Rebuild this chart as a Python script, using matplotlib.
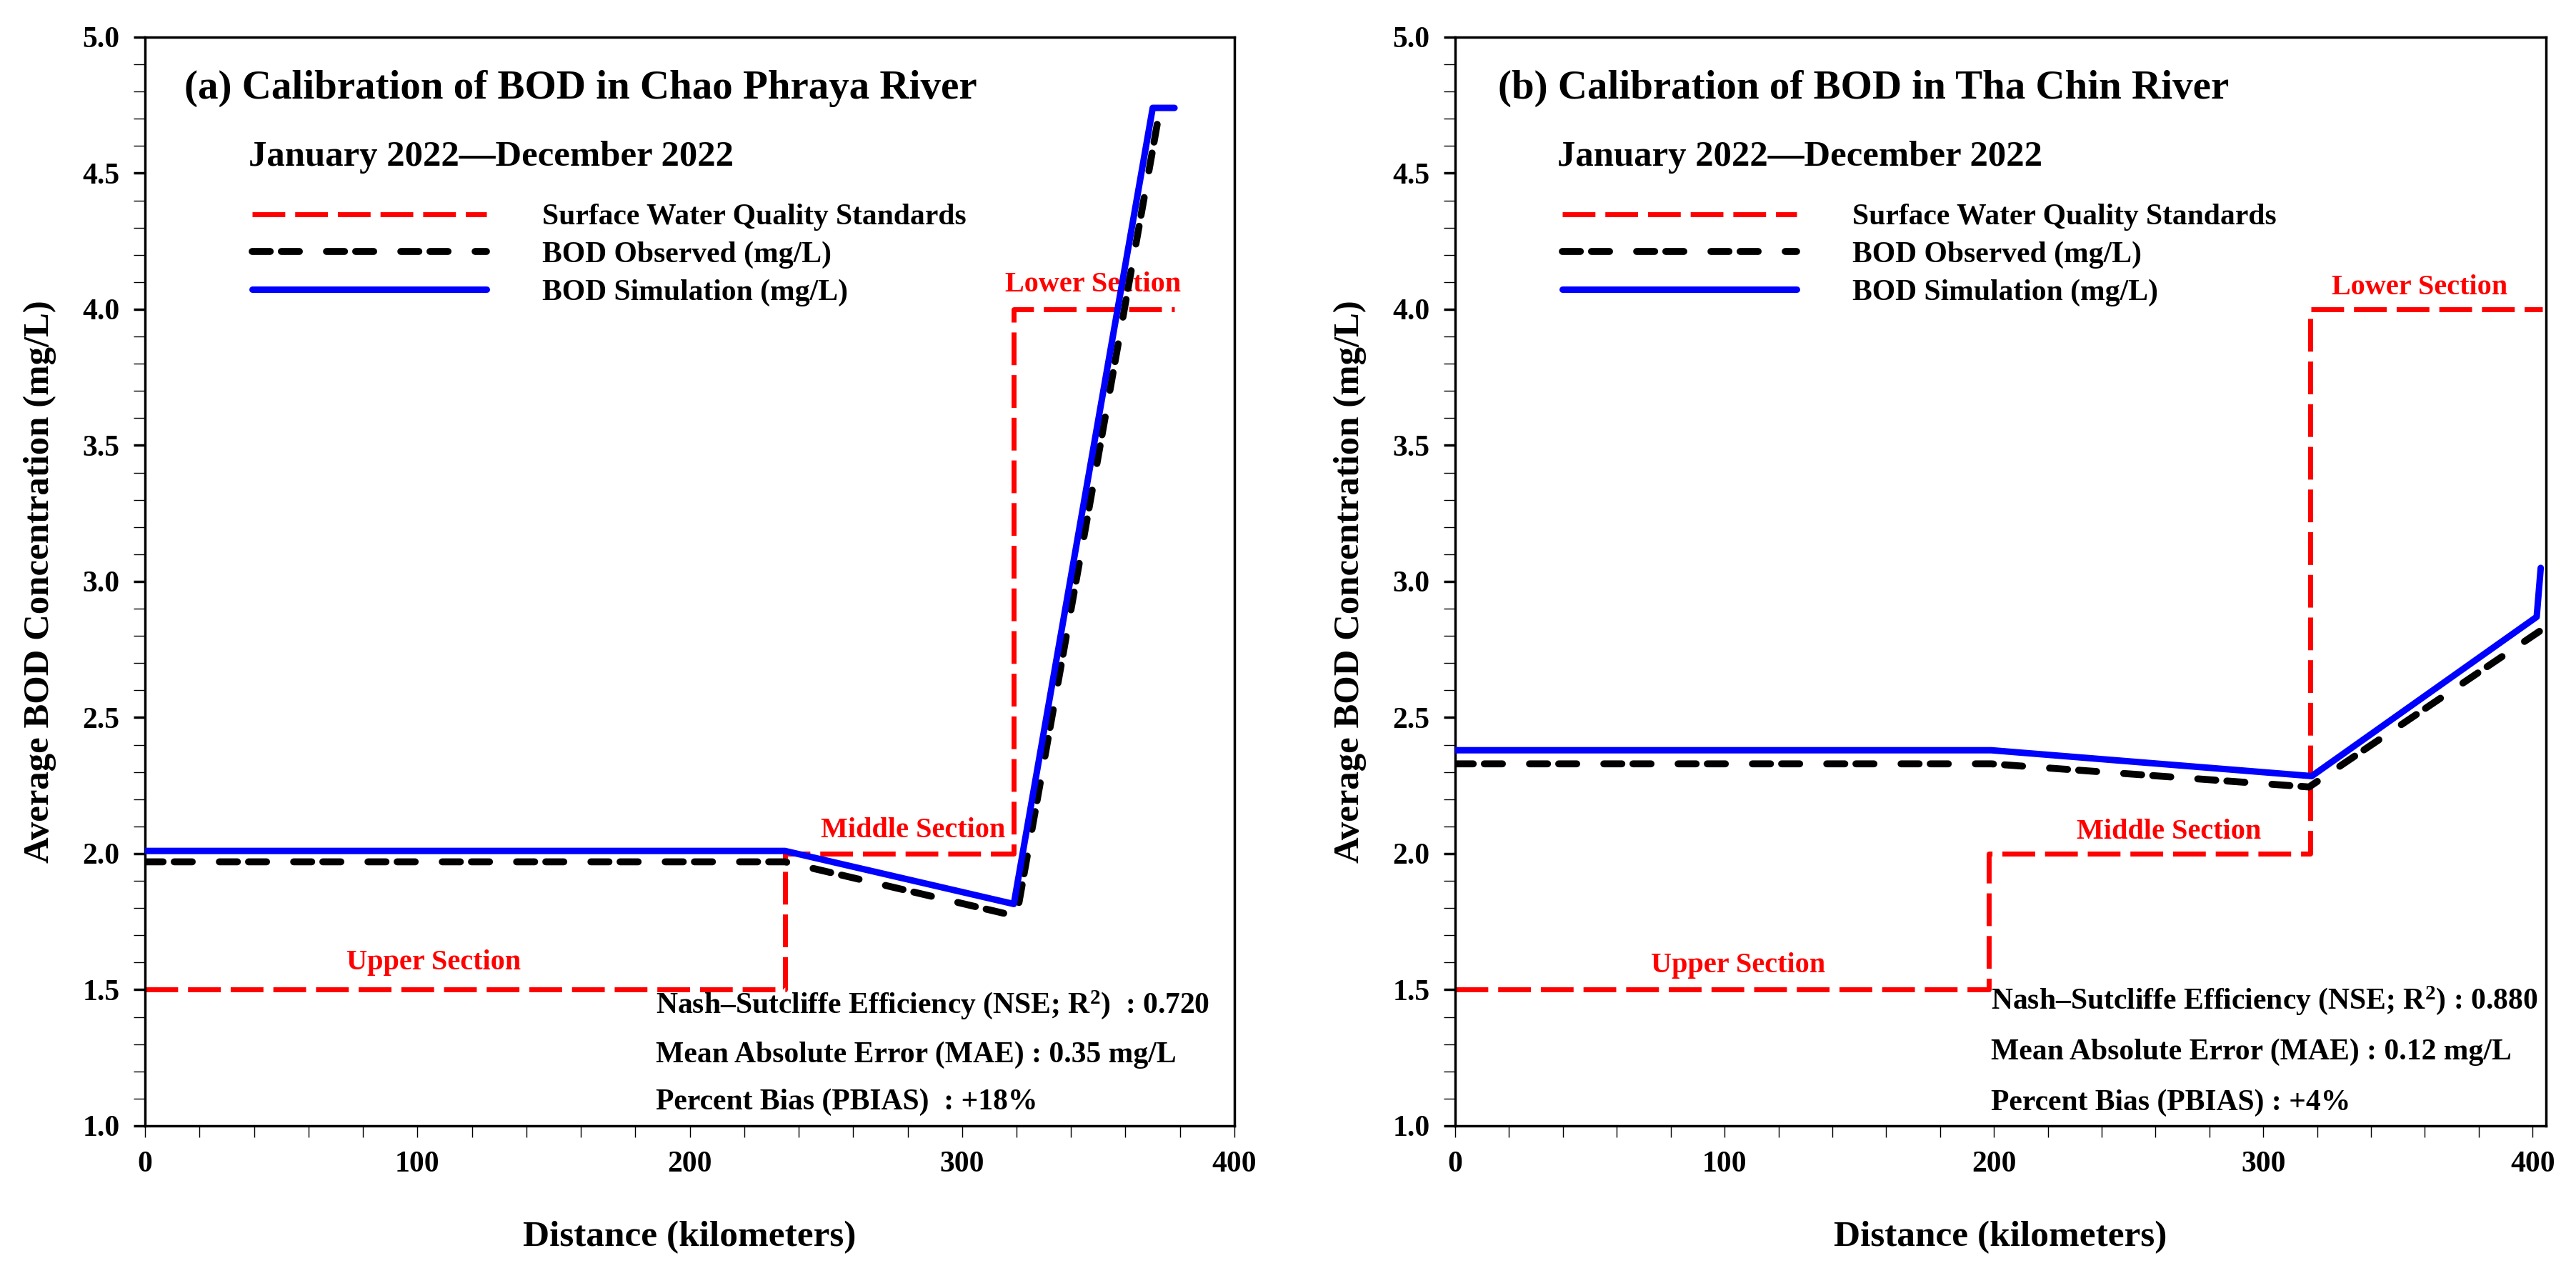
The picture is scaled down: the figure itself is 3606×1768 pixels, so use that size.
import matplotlib
matplotlib.use("Agg")
import matplotlib.pyplot as plt
from matplotlib.ticker import MultipleLocator

plt.rcParams['font.family'] = ['Liberation Serif', 'DejaVu Serif']
plt.rcParams['font.weight'] = 'bold'
plt.rcParams['axes.labelweight'] = 'bold'
plt.rcParams['mathtext.fontset'] = 'custom'
plt.rcParams['mathtext.rm'] = 'Liberation Serif:bold'
plt.rcParams['mathtext.bf'] = 'Liberation Serif:bold'
plt.rcParams['mathtext.it'] = 'Liberation Serif:bold:italic'

# (a) Chao Phraya River
cp_std_x = [0, 235, 235, 319, 319, 378]
cp_std_y = [1.5, 1.5, 2.0, 2.0, 4.0, 4.0]
cp_obs_x = [0, 235, 320, 372, 377]
cp_obs_y = [1.97, 1.97, 1.77, 4.70, 4.70]
cp_sim_x = [0, 235, 319, 370, 378]
cp_sim_y = [2.01, 2.01, 1.815, 4.74, 4.74]
cp_sections = [("Upper Section", 106, 1.60), ("Middle Section", 282, 2.085), ("Lower Section", 348, 4.09)]
cp_stats = ["Nash\u2013Sutcliffe Efficiency (NSE; R$^{2}$)  : 0.720",
            "Mean Absolute Error (MAE) : 0.35 mg/L",
            "Percent Bias (PBIAS)  : +18%"]

# (b) Tha Chin River
tc_std_x = [0, 198, 198, 317.5, 317.5, 403.5]
tc_std_y = [1.5, 1.5, 2.0, 2.0, 4.0, 4.0]
tc_obs_x = [0, 199, 317, 403]
tc_obs_y = [2.33, 2.33, 2.245, 2.82]
tc_sim_x = [0, 199, 318, 401.5, 403]
tc_sim_y = [2.38, 2.38, 2.285, 2.87, 3.05]
tc_sections = [("Upper Section", 105, 1.59), ("Middle Section", 265, 2.08), ("Lower Section", 358, 4.08)]
tc_stats = ["Nash\u2013Sutcliffe Efficiency (NSE; R$^{2}$) : 0.880",
            "Mean Absolute Error (MAE) : 0.12 mg/L",
            "Percent Bias (PBIAS) : +4%"]

fig = plt.figure(figsize=(36.06, 17.68), dpi=100)
ax1 = fig.add_axes([0.0563, 0.1086, 0.4229, 0.862])
ax2 = fig.add_axes([0.5649, 0.1086, 0.4235, 0.862])


def draw_panel(ax, title, std_x, std_y, obs_x, obs_y, sim_x, sim_y, sections, stats,
               xmax, title_x, stat_x, stat_y):
    ax.plot(std_x, std_y, color='red', lw=5, linestyle=(0, (6.6, 2.0)),
            dash_capstyle='butt', label='Surface Water Quality Standards', zorder=2)
    ax.plot(obs_x, obs_y, color='black', lw=7, linestyle=(0, (2.6, 1.6, 2.6, 3.9)),
            dash_capstyle='round', label='BOD Observed (mg/L)', zorder=4)
    ax.plot(sim_x, sim_y, color='blue', lw=6.5, solid_capstyle='round',
            label='BOD Simulation (mg/L)', zorder=5)

    for txt, x, y in sections:
        ax.text(x, y, txt, color='red', fontsize=29, ha='center', va='center', zorder=3)
    for txt, y in zip(stats, stat_y):
        ax.text(stat_x, y, txt, fontsize=30, ha='left', va='center', zorder=6)

    ax.text(title_x, 4.81, title, fontsize=41, ha='left', va='center')
    ax.text(38, 4.56, "January 2022\u2014December 2022", fontsize=36.5, ha='left', va='center')

    ax.legend(loc='center left', bbox_to_anchor=(0.0984, 0.80), frameon=False,
              fontsize=30, handlelength=7.87, handletextpad=1.87, labelspacing=0.34,
              borderpad=0, borderaxespad=0)

    ax.set_xlim(0, xmax)
    ax.set_ylim(1.0, 5.0)
    ax.xaxis.set_major_locator(MultipleLocator(100))
    ax.xaxis.set_minor_locator(MultipleLocator(20))
    ax.yaxis.set_major_locator(MultipleLocator(0.5))
    ax.yaxis.set_minor_locator(MultipleLocator(0.1))
    ax.yaxis.set_major_formatter(plt.FormatStrFormatter('%.1f'))
    ax.tick_params(axis='both', which='both', direction='out', labelsize=30, pad=14)
    ax.tick_params(axis='x', which='both', length=11.5, width=1)
    ax.tick_params(axis='y', which='major', length=11.5, width=2.5)
    ax.tick_params(axis='y', which='minor', length=11.5, width=1)
    for sp in ax.spines.values():
        sp.set_linewidth(2.5)

    ax.set_xlabel("Distance (kilometers)", fontsize=37, fontweight='bold', labelpad=43)
    ax.set_ylabel("Average BOD Concentration (mg/L)", fontsize=36.5, fontweight='bold', labelpad=26)


draw_panel(ax1, "(a) Calibration of BOD in Chao Phraya River",
           cp_std_x, cp_std_y, cp_obs_x, cp_obs_y, cp_sim_x, cp_sim_y,
           cp_sections, cp_stats, 400, 14.5, 187.5, [1.445, 1.26, 1.088])
draw_panel(ax2, "(b) Calibration of BOD in Tha Chin River",
           tc_std_x, tc_std_y, tc_obs_x, tc_obs_y, tc_sim_x, tc_sim_y,
           tc_sections, tc_stats, 405, 16, 199, [1.46, 1.27, 1.085])

fig.savefig("out.png", dpi=100)
